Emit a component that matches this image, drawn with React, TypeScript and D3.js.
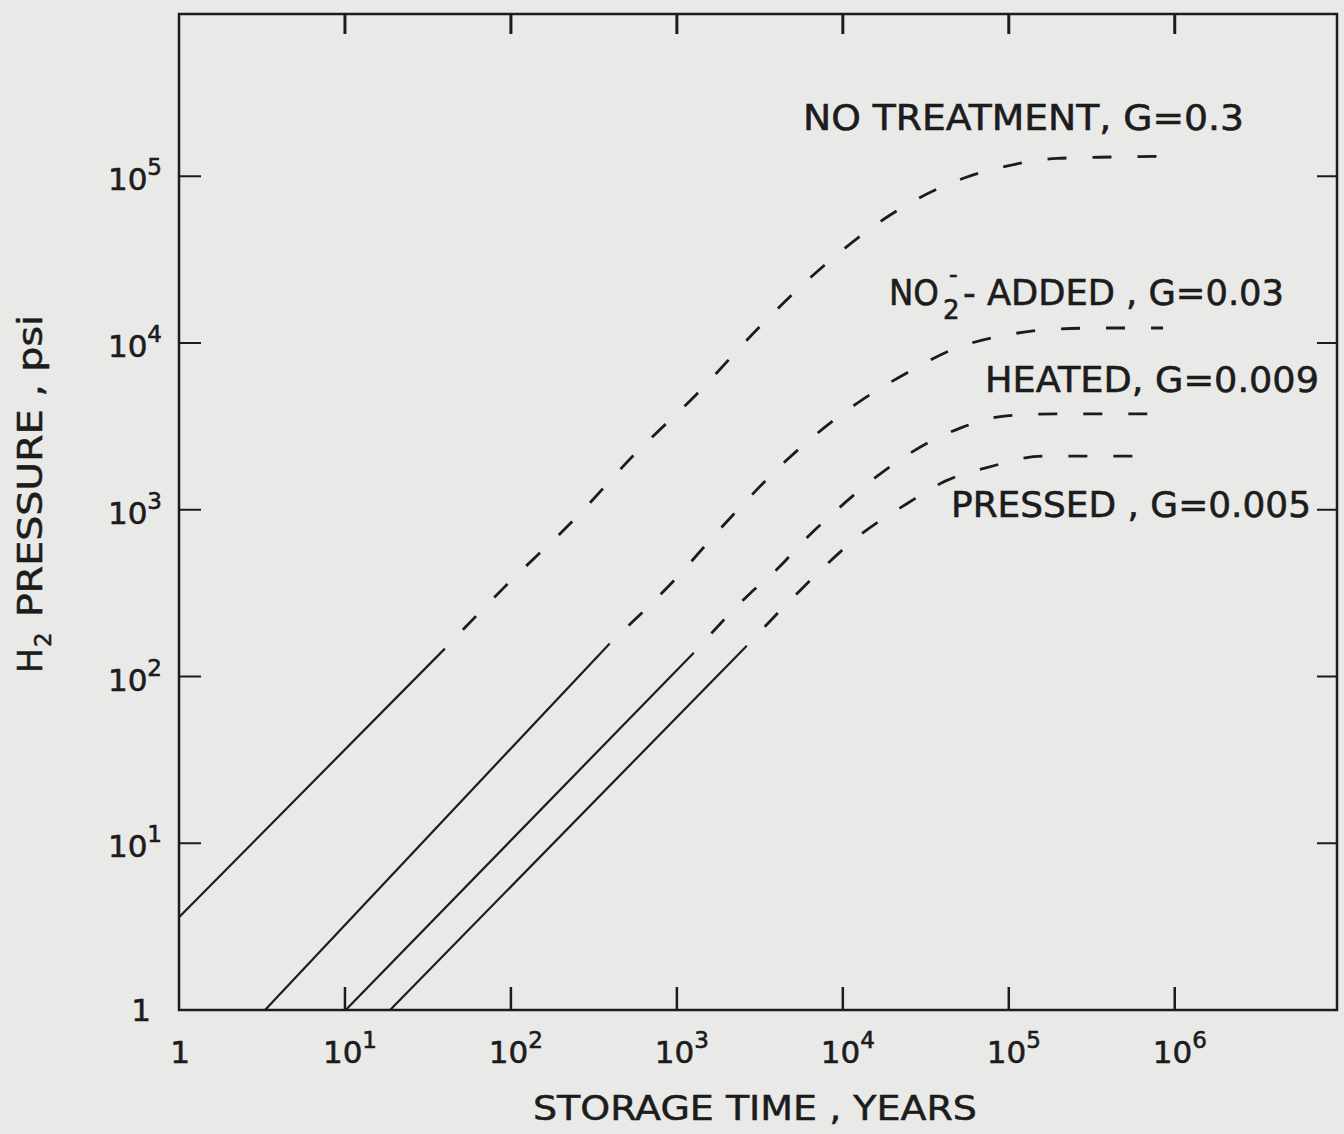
import React from "react";
import * as d3 from "d3";

// decade ticks
const xTickValues = [1, 10, 100, 1e3, 1e4, 1e5, 1e6];
const xTickExponents = ["", "1", "2", "3", "4", "5", "6"];
const yTickValues = [1, 10, 100, 1e3, 1e4, 1e5];
const yTickExponents = ["", "1", "2", "3", "4", "5"];

// [storage time (years), H2 pressure (psi)]
const noTreatmentSolid = [[1, 3.6], [40, 147]];
const noTreatmentDashed = [
  [40, 147], [92, 346], [250, 908], [543, 2100], [1320, 4950], [3030, 12000],
  [7270, 27700], [19200, 58400], [52800, 97000], [97000, 115000],
  [195000, 128000], [353000, 130000], [870000, 132000],
];
const no2AddedSolid = [[3.3, 1], [394, 158]];
const no2AddedDashed = [
  [394, 158], [933, 365], [1945, 824], [4540, 1965], [12800, 4500],
  [24300, 6610], [46700, 9200], [103000, 11300], [187000, 12100],
  [348000, 12300], [850000, 12300],
];
const heatedSolid = [[10.1, 1], [1265, 139]];
const heatedDashed = [
  [1265, 139], [2750, 314], [4110, 450], [6070, 679], [9080, 986],
  [14800, 1490], [26800, 2255], [51400, 3100], [97000, 3660],
  [195000, 3760], [870000, 3760],
];
const pressedSolid = [[18.7, 1], [2640, 153]];
const pressedDashed = [
  [2640, 153], [5510, 327], [13000, 718], [24300, 1086], [41700, 1490],
  [80000, 1830], [160000, 2100], [760000, 2100],
];

const seriesSolid = [noTreatmentSolid, no2AddedSolid, heatedSolid, pressedSolid];
const seriesDashed = [noTreatmentDashed, no2AddedDashed, heatedDashed, pressedDashed];

const INK = "#1c1c1c";
const FONT = "'DejaVu Sans', 'Liberation Sans', sans-serif";

export default function App() {
  const width = 1344;
  const height = 1134;

  const x = d3.scaleLog().domain([1, 9.5e6]).range([179, 1337]);
  const y = d3.scaleLog().domain([1, 9.4e5]).range([1010, 14]);

  const [x0, x1] = x.range();
  const [y0, y1] = y.range();

  const solid = d3.line<number[]>().x(d => x(d[0])).y(d => y(d[1]));
  const dashed = d3
    .line<number[]>()
    .x(d => x(d[0]))
    .y(d => y(d[1]))
    .curve(d3.curveMonotoneX);

  return (
    <svg
      width={width}
      height={height}
      style={{ position: "absolute", left: 0, top: 0, display: "block" }}
    >
      <rect width={width} height={height} fill="#e9e9e8" />

      {/* frame */}
      <rect
        x={x0}
        y={y1}
        width={x1 - x0}
        height={y0 - y1}
        fill="none"
        stroke={INK}
        strokeWidth={2.5}
      />

      {/* bottom + top ticks */}
      {xTickValues.slice(1).map(v => (
        <g key={"xt" + v}>
          <line x1={x(v)} x2={x(v)} y1={y0} y2={y0 - 23} stroke={INK} strokeWidth={2.5} />
          <line x1={x(v)} x2={x(v)} y1={y1} y2={y1 + 20} stroke={INK} strokeWidth={3} />
        </g>
      ))}
      {/* left + right ticks */}
      {yTickValues.slice(1).map(v => (
        <g key={"yt" + v}>
          <line x1={x0} x2={x0 + 22} y1={y(v)} y2={y(v)} stroke={INK} strokeWidth={2} />
          <line x1={x1} x2={x1 - 20} y1={y(v)} y2={y(v)} stroke={INK} strokeWidth={2} />
        </g>
      ))}

      <g fontFamily={FONT} fill={INK} stroke={INK} strokeWidth={0.6}>
        {/* x tick labels */}
        {xTickValues.map((v, i) => (
          <text
            key={"xl" + v}
            x={x(v) + (i === 0 ? 1 : 5)}
            y={1063}
            textAnchor="middle"
            fontSize={31}
          >
            {i === 0 ? "1" : "10"}
            {xTickExponents[i] && (
              <tspan dy={-15} fontSize={23}>
                {xTickExponents[i]}
              </tspan>
            )}
          </text>
        ))}

        {/* y tick labels */}
        {yTickValues.map((v, i) => (
          <text
            key={"yl" + v}
            x={i === 0 ? 151 : 162}
            y={y(v) + (i === 0 ? 11 : 14)}
            textAnchor="end"
            fontSize={31}
          >
            {i === 0 ? "1" : "10"}
            {yTickExponents[i] && (
              <tspan dy={-15} fontSize={23}>
                {yTickExponents[i]}
              </tspan>
            )}
          </text>
        ))}
      </g>

      {/* curves */}
      {seriesSolid.map((s, i) => (
        <path key={"s" + i} d={solid(s) || ""} fill="none" stroke={INK} strokeWidth={2.2} />
      ))}
      {seriesDashed.map((s, i) => (
        <path
          key={"d" + i}
          d={dashed(s) || ""}
          fill="none"
          stroke={INK}
          strokeWidth={2.8}
          strokeDasharray="19 26"
          strokeDashoffset={19}
        />
      ))}

      {/* curve labels */}
      <g fontFamily={FONT} fontSize={36} fill={INK} stroke={INK} strokeWidth={0.6}>
        <text x={803} y={130} textLength={441} lengthAdjust="spacingAndGlyphs">
          NO TREATMENT, G=0.3
        </text>

        <text x={889} y={305} textLength={50} lengthAdjust="spacingAndGlyphs">
          NO
        </text>
        <text x={943} y={319} fontSize={26}>
          2
        </text>
        <text x={949} y={283} fontSize={24}>
          -
        </text>
        <text x={963} y={305} textLength={321} lengthAdjust="spacingAndGlyphs">
          - ADDED , G=0.03
        </text>

        <text x={985} y={392} textLength={334} lengthAdjust="spacingAndGlyphs">
          HEATED, G=0.009
        </text>
        <text x={951} y={517} textLength={360} lengthAdjust="spacingAndGlyphs">
          PRESSED , G=0.005
        </text>
      </g>

      {/* axis titles */}
      <text
        x={533}
        y={1120}
        fontFamily={FONT}
        fontSize={33}
        fill={INK}
        stroke={INK}
        strokeWidth={0.5}
        textLength={444}
        lengthAdjust="spacingAndGlyphs"
      >
        STORAGE TIME , YEARS
      </text>
      <g
        transform="translate(42,673) rotate(-90)"
        fontFamily={FONT}
        fill={INK}
        stroke={INK}
        strokeWidth={0.5}
      >
        <text x={0} y={0} fontSize={33}>
          H
        </text>
        <text x={26} y={9} fontSize={23}>
          2
        </text>
        <text x={56} y={0} fontSize={33} textLength={302} lengthAdjust="spacingAndGlyphs">
          PRESSURE , psi
        </text>
      </g>
    </svg>
  );
}
